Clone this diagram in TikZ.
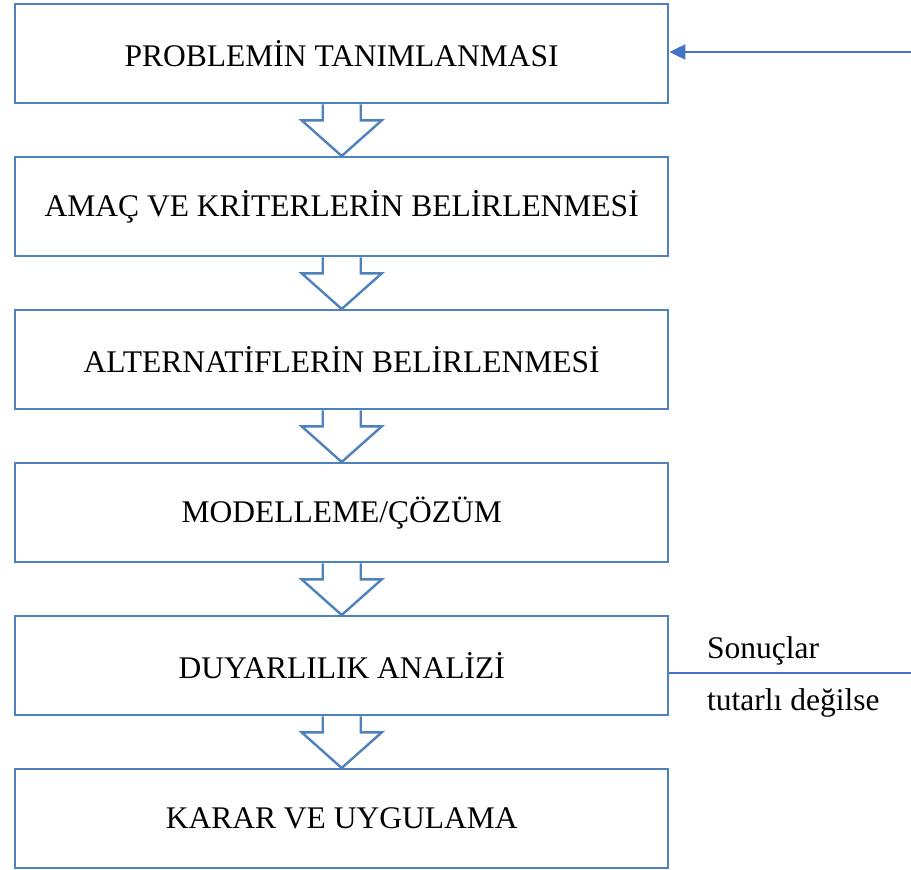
\documentclass[tikz,border=0pt]{standalone}
\usepackage{fontspec}
\setmainfont{Liberation Serif}
\usetikzlibrary{arrows.meta}
\definecolor{boxblue}{HTML}{4F81BD}
\definecolor{lineblue}{HTML}{4472C4}
\tikzset{
  stepbox/.style={draw=boxblue, line width=2.4pt, minimum width=653pt, minimum height=99pt, inner sep=0pt, font=\fontsize{31.5pt}{36pt}\selectfont, anchor=north west},
  downarrow/.style={draw=boxblue, line width=2.4pt, line join=miter, fill=white},
  conn/.style={draw=lineblue, line width=2pt},
  lbl/.style={font=\fontsize{31.5pt}{36pt}\selectfont, anchor=base west, inner sep=0pt}
}
\begin{document}
\begin{tikzpicture}[x=1pt,y=-1pt]
\useasboundingbox (0,0) rectangle (911,870);
\node[stepbox] (b1) at (14,3) {PROBLEMİN TANIMLANMASI};
\node[stepbox] (b2) at (14,156) {AMAÇ VE KRİTERLERİN BELİRLENMESİ};
\node[stepbox] (b3) at (14,309) {ALTERNATİFLERİN BELİRLENMESİ};
\node[stepbox] (b4) at (14,462) {MODELLEME/ÇÖZÜM};
\node[stepbox] (b5) at (14,615) {DUYARLILIK ANALİZİ};
\node[stepbox] (b6) at (14,768) {KARAR VE UYGULAMA};
\foreach \a/\b in {b1/b2,b2/b3,b3/b4,b4/b5,b5/b6}{
  \draw[downarrow] ([xshift=-19pt]\a.south) -- ++(0,16) -- ++(-21,0) -- (\b.north) -- ([xshift=40pt,yshift=-16pt]\a.south) -- ++(-21,0) -- ([xshift=19pt]\a.south);
}
\coordinate (in) at (911,52);
\draw[conn, -{Triangle[length=16pt,width=15pt]}] (in) -- (b1.east |- in);
\coordinate (out) at (911,673);
\draw[conn] (b5.east |- out) -- (out);
\node[lbl] (t1) at (707,658) {Sonuçlar};
\node[lbl] (t2) at (707,710) {tutarlı değilse};
\end{tikzpicture}
\end{document}
